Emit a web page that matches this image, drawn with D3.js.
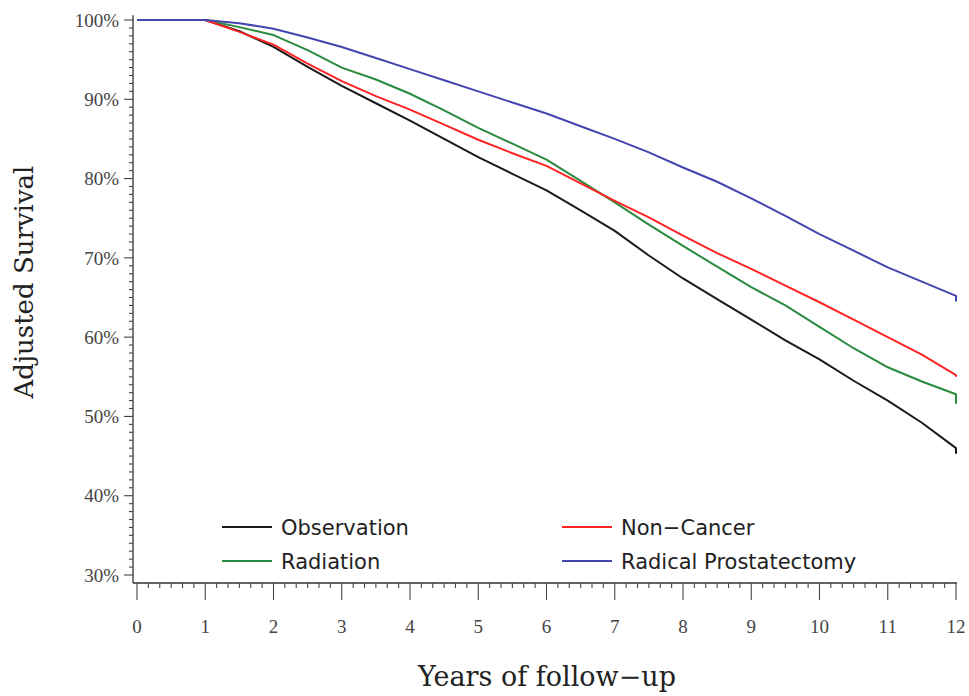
<!DOCTYPE html>
<html lang="en">
<head>
  <meta charset="UTF-8">
  <title>Adjusted Survival</title>
  <style>
    body {
      margin: 0;
      background: #fff;
      overflow: hidden;
    }
    .tick-label {
      font-family: 'Liberation Serif', serif;
      font-size: 19px;
      fill: #444;
    }
    .axis-title {
      font-family: 'DejaVu Serif', serif;
      fill: #222;
    }
    .legend-text {
      font-family: 'DejaVu Sans', sans-serif;
      font-size: 21px;
      fill: #222;
    }
  </style>
</head>
<body>
  <script src="https://d3js.org/d3.v7.min.js"></script>
  <script>
    // follow-up time (years); last point repeated for the end drop
    const years = [0, 1, 1.5, 2, 2.5, 3, 3.5, 4, 4.5, 5, 5.5, 6, 6.5, 7, 7.5, 8, 8.5, 9, 9.5, 10, 10.5, 11, 11.5, 12, 12];

    const observation = [100, 100, 98.6, 96.6, 94.1, 91.7, 89.5, 87.3, 85.0, 82.7, 80.6, 78.5, 76.0, 73.4, 70.3, 67.4, 64.8, 62.2, 59.6, 57.2, 54.5, 52.0, 49.2, 46.0, 45.3];
    const radiation = [100, 100, 99.1, 98.1, 96.2, 94.0, 92.5, 90.7, 88.6, 86.4, 84.4, 82.4, 79.7, 77.0, 74.2, 71.5, 68.9, 66.3, 64.0, 61.3, 58.6, 56.2, 54.4, 52.8, 51.6];
    const nonCancer = [100, 100, 98.5, 96.9, 94.5, 92.3, 90.4, 88.7, 86.8, 84.9, 83.2, 81.6, 79.4, 77.2, 75.1, 72.8, 70.6, 68.6, 66.5, 64.4, 62.2, 60.0, 57.8, 55.2, 55.0];
    const prostatectomy = [100, 100, 99.6, 98.9, 97.8, 96.6, 95.2, 93.8, 92.4, 91.0, 89.6, 88.2, 86.6, 85.0, 83.3, 81.4, 79.6, 77.5, 75.3, 73.0, 70.9, 68.8, 67.0, 65.2, 64.5];

    const xTicks = [0, 1, 2, 3, 4, 5, 6, 7, 8, 9, 10, 11, 12];
    const yTicks = [30, 40, 50, 60, 70, 80, 90, 100];

    const seriesNames = ['Observation', 'Non\u2212Cancer', 'Radiation', 'Radical Prostatectomy'];
    const seriesColors = ['#1a1a1a', '#ff2424', '#2a8a3e', '#4545b0'];
    const seriesValues = [observation, nonCancer, radiation, prostatectomy];

    const width = 969;
    const height = 696;

    const x = d3.scaleLinear().domain([0, 12]).range([137, 956]);
    const y = d3.scaleLinear().domain([30, 100]).range([575, 20]);

    const axisX = 133;
    const axisY = 583;

    const svg = d3.select('body').append('svg')
      .attr('width', width)
      .attr('height', height);

    // y axis
    svg.append('line')
      .attr('x1', axisX).attr('x2', axisX)
      .attr('y1', y(100.6)).attr('y2', axisY)
      .attr('stroke', '#333').attr('stroke-width', 1.3);

    const yMinor = d3.range(30, 101, 1);
    svg.selectAll('.y-minor')
      .data(yMinor)
      .enter().append('line')
      .attr('class', 'y-minor')
      .attr('x1', d => yTicks.includes(d) ? axisX - 9 : axisX - 4)
      .attr('x2', axisX)
      .attr('y1', d => y(d))
      .attr('y2', d => y(d))
      .attr('stroke', '#444')
      .attr('stroke-width', 1.1);

    svg.selectAll('.y-label')
      .data(yTicks)
      .enter().append('text')
      .attr('class', 'tick-label')
      .attr('x', axisX - 14)
      .attr('y', d => y(d))
      .attr('dy', '0.35em')
      .attr('text-anchor', 'end')
      .text(d => d + '%');

    // x axis
    svg.append('line')
      .attr('x1', axisX).attr('x2', x(12) + 1)
      .attr('y1', axisY).attr('y2', axisY)
      .attr('stroke', '#333').attr('stroke-width', 1.3);

    const xMinor = d3.range(0, 73).map(i => i / 6);
    svg.selectAll('.x-minor')
      .data(xMinor)
      .enter().append('line')
      .attr('class', 'x-minor')
      .attr('x1', d => x(d))
      .attr('x2', d => x(d))
      .attr('y1', axisY)
      .attr('y2', (d, i) => i % 6 === 0 ? axisY + 17 : axisY + 5)
      .attr('stroke', '#444')
      .attr('stroke-width', 1.1);

    svg.selectAll('.x-label')
      .data(xTicks)
      .enter().append('text')
      .attr('class', 'tick-label')
      .attr('x', d => x(d))
      .attr('y', 633)
      .attr('text-anchor', 'middle')
      .text(d => d);

    // axis titles
    svg.append('text')
      .attr('class', 'axis-title')
      .attr('transform', 'translate(33,282) rotate(-90)')
      .attr('text-anchor', 'middle')
      .attr('font-size', 26)
      .text('Adjusted Survival');

    svg.append('text')
      .attr('class', 'axis-title')
      .attr('x', 547)
      .attr('y', 686)
      .attr('text-anchor', 'middle')
      .attr('font-size', 27)
      .text('Years of follow\u2212up');

    // survival curves
    const line = d3.line()
      .x((d, i) => x(years[i]))
      .y(d => y(d));

    const drawOrder = [0, 2, 1, 3];
    drawOrder.forEach(k => {
      svg.append('path')
        .datum(seriesValues[k])
        .attr('fill', 'none')
        .attr('stroke', seriesColors[k])
        .attr('stroke-width', 2)
        .attr('stroke-linejoin', 'round')
        .attr('d', line);
    });

    // legend: two columns, two rows
    const legendX = [222, 562];
    const legendY = [527, 561];
    const legend = svg.selectAll('.legend')
      .data(seriesNames)
      .enter().append('g')
      .attr('class', 'legend')
      .attr('transform', (d, i) => `translate(${legendX[i % 2]},${legendY[Math.floor(i / 2)]})`);

    legend.append('line')
      .attr('x1', 0).attr('x2', 50)
      .attr('y1', 0).attr('y2', 0)
      .attr('stroke', (d, i) => seriesColors[i])
      .attr('stroke-width', 2);

    legend.append('text')
      .attr('class', 'legend-text')
      .attr('x', 59)
      .attr('dy', '0.36em')
      .text(d => d);
  </script>
</body>
</html>
